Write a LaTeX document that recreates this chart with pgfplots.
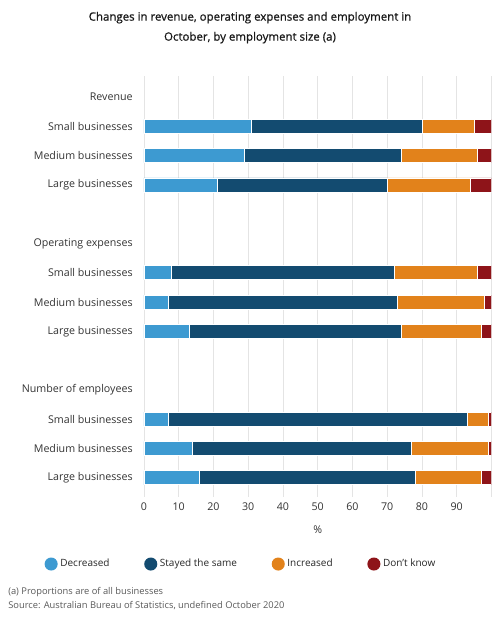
\documentclass[border=0pt]{standalone}
\usepackage{pgfplots}
\pgfplotsset{compat=1.18}
\usepackage{pgfplotstable}
\usepackage{fontspec}
\setmainfont{Open Sans}
\newfontfamily\titlefont[FakeBold=0.8]{Open Sans}
\definecolor{cDec}{HTML}{3D9AD1}
\definecolor{cSame}{HTML}{134B70}
\definecolor{cInc}{HTML}{E2821B}
\definecolor{cDk}{HTML}{8E1419}
\definecolor{txt}{HTML}{333333}
\definecolor{gridc}{HTML}{E4E4E4}

\pgfplotstableread{
y dec same inc dk
-1 31 49 15 5
-2 29 45 22 4
-3 21 49 24 6
-6 8 64 24 4
-7 7 66 25 2
-8 13 61 23 3
-11 7 86 6 1
-12 14 63 22 1
-13 16 62 19 3
}\data

\begin{document}
\begin{tikzpicture}
\useasboundingbox (0,0) rectangle (375pt,468.75pt);
\begin{axis}[
  at={(108pt,99pt)}, anchor=south west,
  scale only axis, width=260.6pt, height=309.75pt,
  xbar stacked, bar width=10.5pt,
  xmin=0, xmax=100,
  ymin=-13.52, ymax=0.58,
  xtick={0,10,...,100},
  xticklabels={0,10,20,30,40,50,60,70,80,90,},
  ytick={-13,-12,-11,-10,-8,-7,-6,-5,-3,-2,-1,0},
  yticklabels={Large businesses,Medium businesses,Small businesses,Number of employees,
    Large businesses,Medium businesses,Small businesses,Operating expenses,
    Large businesses,Medium businesses,Small businesses,Revenue},
  axis line style={draw=none},
  ytick style={draw=none},
  xtick style={draw=gridc, line width=0.6pt},
  tick align=outside, major tick length=3pt,
  xmajorgrids, grid style={draw=gridc, line width=0.6pt},
  ticklabel style={font=\fontsize{8}{10}\selectfont, text=txt},
  /pgf/number format/assume math mode=true,
  yticklabel style={xshift=-2pt},
  xticklabel style={yshift=-1pt},
  xlabel={\%}, xlabel style={font=\fontsize{8}{10}\selectfont, text=txt, yshift=-4pt},
  legend style={draw=none, fill=none, at={(0.28,-0.172)}, anchor=center,
    legend columns=4, font=\fontsize{7.5}{9}\selectfont, text=black!85,
    /tikz/every even column/.append style={column sep=24pt}},
]
\addplot[fill=cDec, draw=white, line width=0.5pt,
  legend image code/.code={\path[fill=cDec, draw=none] (0.1cm,0cm) circle[radius=4.9pt];}] table[x=dec,y=y]{\data};
\addlegendentry{Decreased}
\addplot[fill=cSame, draw=white, line width=0.5pt,
  legend image code/.code={\path[fill=cSame, draw=none] (0.1cm,0cm) circle[radius=4.9pt];}] table[x=same,y=y]{\data};
\addlegendentry{Stayed the same}
\addplot[fill=cInc, draw=white, line width=0.5pt,
  legend image code/.code={\path[fill=cInc, draw=none] (0.1cm,0cm) circle[radius=4.9pt];}] table[x=inc,y=y]{\data};
\addlegendentry{Increased}
\addplot[fill=cDk, draw=white, line width=0.5pt,
  legend image code/.code={\path[fill=cDk, draw=none] (0.1cm,0cm) circle[radius=4.9pt];}] table[x=dk,y=y]{\data};
\addlegendentry{Don't know}
\end{axis}
\node[font=\titlefont\fontsize{8.6}{10}\selectfont, text=black!90] at (187.5pt,455.5pt) {Changes in revenue, operating expenses and employment in};
\node[font=\titlefont\fontsize{8.6}{10}\selectfont, text=black!90] at (187.5pt,440.5pt) {October, by employment size (a)};
\node[anchor=west, font=\fontsize{7}{8}\selectfont, text=black!65, inner sep=0pt] at (6pt,24.5pt) {(a) Proportions are of all businesses};
\node[anchor=west, font=\fontsize{7}{8}\selectfont, text=black!65, inner sep=0pt] at (6pt,14.25pt) {Source: Australian Bureau of Statistics, undefined October 2020};
\end{tikzpicture}
\end{document}
